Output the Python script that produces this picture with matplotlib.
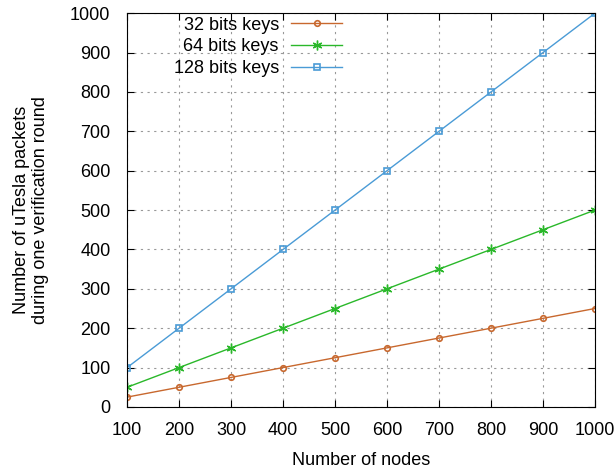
import matplotlib.pyplot as plt

nodes = [100, 200, 300, 400, 500, 600, 700, 800, 900, 1000]
keys_32 = [25, 50, 75, 100, 125, 150, 175, 200, 225, 250]
keys_64 = [50, 100, 150, 200, 250, 300, 350, 400, 450, 500]
keys_128 = [100, 200, 300, 400, 500, 600, 700, 800, 900, 1000]

plt.rcParams["font.family"] = ["Liberation Sans", "DejaVu Sans"]

fig = plt.figure(figsize=(6.14, 4.71), dpi=100)
ax = fig.add_axes([0.207, 0.136, 0.762, 0.836])

ax.plot(nodes, keys_32, color="#c8682e", lw=1, marker="o", ms=4,
        mfc="none", mew=1.2, label="32 bits keys")
ax.plot(nodes, keys_64, color="#2ab82a", lw=1, marker=(6, 2, 0), ms=7,
        mew=1, label="64 bits keys")
ax.plot(nodes, keys_128, color="#4a9bd6", lw=1, marker="s", ms=4.5,
        mfc="none", mew=1.2, label="128 bits keys")

ax.set_xlim(100, 1000)
ax.set_ylim(0, 1000)
ax.set_xticks(nodes)
ax.set_yticks(range(0, 1001, 100))
ax.tick_params(direction="in", top=True, right=True, labelsize=13, length=5)
ax.tick_params(axis="x", pad=11)
ax.tick_params(axis="y", pad=12)
ax.grid(True, linestyle=(0, (2, 4)), color="#999999", lw=0.8)

ax.set_xlabel("Number of nodes", fontsize=13, labelpad=9)
ax.set_ylabel("Number of uTesla packets\nduring one verification round",
              fontsize=13, labelpad=15)

leg = ax.legend(loc="upper right", bbox_to_anchor=(0.467, 1.0), frameon=False,
                fontsize=13, markerfirst=False, handlelength=2.8,
                handletextpad=0.7, labelspacing=0.25, borderpad=0.2,
                borderaxespad=0)
leg._legend_box._children[1]._children[0].align = "right"

fig.savefig("out.png", dpi=100)
